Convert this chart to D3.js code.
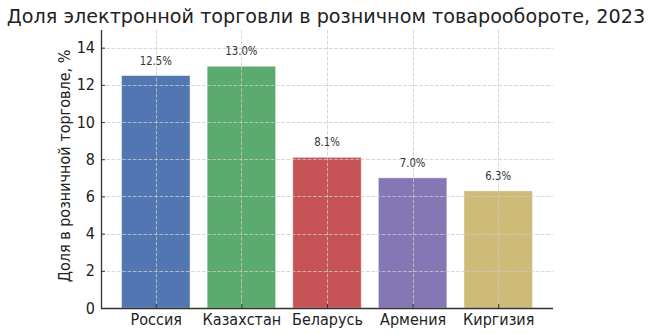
<!DOCTYPE html>
<html>
<head>
<meta charset="utf-8">
<script src="https://cdn.jsdelivr.net/npm/d3@7"></script>
<style>
  body { margin: 0; background: #fff; }
  svg { font-family: "DejaVu Sans", sans-serif; }
</style>
</head>
<body>
<svg id="chart" width="654" height="334"></svg>
<script>
const countries = ["Россия", "Казахстан", "Беларусь", "Армения", "Киргизия"];
const shares = [12.5, 13.0, 8.1, 7.0, 6.3];
const colors = ["#4C72B0", "#55A868", "#C44E52", "#8172B2", "#CCB974"];
const yTicks = [0, 2, 4, 6, 8, 10, 12, 14];
const titleText = "Доля электронной торговли в розничном товарообороте, 2023";
const yLabel = "Доля в розничной торговле, %";

const svg = d3.select("#chart");
const plotLeft = 101, plotRight = 553, plotTop = 30, plotBottom = 308;
const squeeze = 0.9; // slightly condensed lettering for axis texts

// Category positions: unit spacing, bar width 0.8, 5% side margins
const n = countries.length;
const xLin = d3.scaleLinear().domain([-0.64, n - 1 + 0.64]).range([plotLeft, plotRight]);
const barW = xLin(0.8) - xLin(0);
const y = d3.scaleLinear().domain([0, d3.max(shares) * 1.15]).range([plotBottom, plotTop]);

// Bars
svg.append("g").selectAll("rect").data(shares).join("rect")
  .attr("x", (d, i) => xLin(i) - barW / 2)
  .attr("y", d => y(d))
  .attr("width", barW)
  .attr("height", d => y(0) - y(d))
  .attr("fill", (d, i) => colors[i])
  .attr("fill-opacity", 0.97)
  .attr("stroke", "#fff")
  .attr("stroke-opacity", 0.45)
  .attr("stroke-width", 1);

// Grid (drawn over the bars)
const grid = svg.append("g").attr("stroke", "#cccccc").attr("stroke-opacity", 0.85)
  .attr("stroke-width", 0.9).attr("stroke-dasharray", "3.7,1.6");
grid.selectAll("line.h").data(yTicks).join("line").attr("class", "h")
  .attr("x1", plotLeft).attr("x2", plotRight)
  .attr("y1", d => Math.round(y(d)) + 0.5).attr("y2", d => Math.round(y(d)) + 0.5);
grid.selectAll("line.v").data(countries).join("line").attr("class", "v")
  .attr("x1", (d, i) => Math.round(xLin(i)) + 0.5).attr("x2", (d, i) => Math.round(xLin(i)) + 0.5)
  .attr("y1", plotTop).attr("y2", plotBottom);

// Value labels
svg.append("g").selectAll("text").data(shares).join("text")
  .attr("transform", (d, i) => `translate(${xLin(i)},${y(d) - 11}) scale(0.88,1)`)
  .attr("text-anchor", "middle")
  .attr("font-size", 11.5)
  .attr("fill", "#333")
  .text(d => d.toFixed(1) + "%");

// Y axis
const yAxis = d3.axisLeft(y).tickValues(yTicks).tickSize(-4).tickPadding(6.7).tickFormat(d3.format("d"));
const gy = svg.append("g").attr("transform", `translate(${plotLeft},0)`).call(yAxis);
gy.select(".domain").attr("stroke", "#333").attr("stroke-width", 1.3).attr("d", `M0.5,${plotTop}V${plotBottom}`);
gy.selectAll(".tick line").attr("stroke", "#333");
gy.selectAll(".tick text").attr("font-size", 16).attr("fill", "#222").attr("font-family", "DejaVu Sans")
  .attr("transform", `scale(${squeeze},1)`);

// X axis
const xAxis = d3.axisBottom(xLin).tickValues(d3.range(n)).tickSize(-4).tickPadding(6)
  .tickFormat(i => countries[i]);
const gx = svg.append("g").attr("transform", `translate(0,${plotBottom})`).call(xAxis);
gx.select(".domain").attr("stroke", "#333").attr("stroke-width", 1.3).attr("d", `M${plotLeft},0.5H${plotRight}`);
gx.selectAll(".tick line").attr("stroke", "#333");
gx.selectAll(".tick text").attr("font-size", 16).attr("fill", "#222").attr("font-family", "DejaVu Sans")
  .attr("transform", `scale(${squeeze},1)`);

// Y label
svg.append("text")
  .attr("transform", `translate(70,166) rotate(-90) scale(${squeeze},1)`)
  .attr("text-anchor", "middle")
  .attr("font-size", 16).attr("fill", "#222")
  .text(yLabel);

// Title
svg.append("text")
  .attr("x", 326).attr("y", 23)
  .attr("text-anchor", "middle")
  .attr("font-size", 19.2).attr("fill", "#222")
  .text(titleText);
</script>
</body>
</html>
